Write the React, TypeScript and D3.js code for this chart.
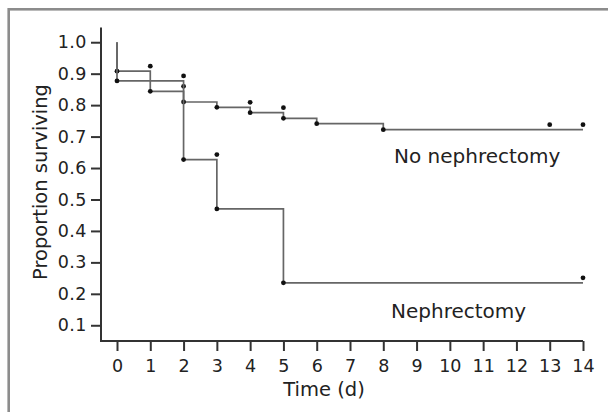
import React, { useEffect, useRef } from 'react';
import * as d3 from 'd3';

// Kaplan-Meier steps (time in days, proportion surviving)
const noNephTimes = [0, 0, 1, 2, 3, 4, 5, 6, 8];
const noNephSurv = [1, 0.908, 0.844, 0.81, 0.793, 0.776, 0.758, 0.741, 0.722];
const noNephCensored = [1, 2, 4, 5, 13, 14];

const nephTimes = [0, 0, 2, 3, 5];
const nephSurv = [1, 0.877, 0.627, 0.47, 0.235];
const nephCensored = [2, 3, 14];

const xTicks = d3.range(0, 15);
const yTicks = [0.1, 0.2, 0.3, 0.4, 0.5, 0.6, 0.7, 0.8, 0.9, 1.0];

const FONT = '"DejaVu Sans", Verdana, sans-serif';

const App = () => {
  const svgRef = useRef<SVGSVGElement | null>(null);

  useEffect(() => {
    if (!svgRef.current) return;
    const svg = d3.select(svgRef.current);
    svg.selectAll('*').remove();

    // frame around the figure (runs off the right and bottom edges)
    svg
      .append('rect')
      .attr('x', 8.7)
      .attr('y', 9.3)
      .attr('width', 640)
      .attr('height', 440)
      .attr('fill', 'white')
      .attr('stroke', '#8c8c8c')
      .attr('stroke-width', 2.6);

    // scales
    const x = d3.scaleLinear().domain([0, 14]).range([117, 583]);
    const y = d3.scaleLinear().domain([0.05, 1.05]).range([341, 26.5]);
    const axisLeftX = 101;
    const axisBottomY = y(0.05);

    const g = svg.append('g');

    // axis lines (L shape)
    g.append('path')
      .attr('d', `M${axisLeftX},${y(1.047)}V${axisBottomY}H${x(14)}`)
      .attr('fill', 'none')
      .attr('stroke', '#333')
      .attr('stroke-width', 2);

    // X axis ticks + labels
    const xAxis = g
      .append('g')
      .attr('transform', `translate(0,${axisBottomY})`)
      .call(
        d3
          .axisBottom(x)
          .tickValues(xTicks)
          .tickSize(10)
          .tickSizeOuter(0)
          .tickPadding(9)
          .tickFormat(d3.format('d'))
      );
    xAxis.select('.domain').remove();
    xAxis.selectAll('line').attr('stroke', '#333').attr('stroke-width', 2);
    xAxis
      .selectAll('text')
      .attr('fill', '#222')
      .style('font-family', FONT)
      .style('font-size', '17.5px');

    // Y axis ticks + labels
    const yAxis = g
      .append('g')
      .attr('transform', `translate(${axisLeftX},0)`)
      .call(
        d3
          .axisLeft(y)
          .tickValues(yTicks)
          .tickSize(10)
          .tickSizeOuter(0)
          .tickPadding(4)
          .tickFormat(d3.format('.1f'))
      );
    yAxis.select('.domain').remove();
    yAxis.selectAll('line').attr('stroke', '#333').attr('stroke-width', 2);
    yAxis
      .selectAll('text')
      .attr('fill', '#222')
      .style('font-family', FONT)
      .style('font-size', '17.5px')
      .style('letter-spacing', '0.5px');

    // axis titles
    g.append('text')
      .attr('transform', `translate(47,182) rotate(-90)`)
      .attr('text-anchor', 'middle')
      .attr('fill', '#222')
      .style('font-family', FONT)
      .style('font-size', '19.5px')
      .text('Proportion surviving');

    g.append('text')
      .attr('x', 324)
      .attr('y', 396)
      .attr('text-anchor', 'middle')
      .attr('fill', '#222')
      .style('font-family', FONT)
      .style('font-size', '19.5px')
      .text('Time (d)');

    // survival curves
    const line = d3
      .line<[number, number]>()
      .x(d => x(d[0]))
      .y(d => y(d[1]))
      .curve(d3.curveStepAfter);

    const curves = [
      { times: noNephTimes, surv: noNephSurv, censored: noNephCensored },
      { times: nephTimes, surv: nephSurv, censored: nephCensored }
    ];

    curves.forEach(c => {
      const pts: [number, number][] = c.times.map((t, i) => [t, c.surv[i]]);
      pts.push([14, c.surv[c.surv.length - 1]]);

      g.append('path')
        .datum(pts)
        .attr('fill', 'none')
        .attr('stroke', '#666')
        .attr('stroke-width', 1.7)
        .attr('d', line);

      // event dots at each new step level
      g.selectAll(null)
        .data(pts.slice(1, pts.length - 1))
        .enter()
        .append('circle')
        .attr('cx', d => x(d[0]))
        .attr('cy', d => y(d[1]))
        .attr('r', 2.4)
        .attr('fill', '#111');

      // censor marks, drawn just above the level before that time
      const levelBefore = (t: number) => {
        let v = c.surv[0];
        c.times.forEach((tt, i) => {
          if (tt < t) v = c.surv[i];
        });
        return v;
      };
      g.selectAll(null)
        .data(c.censored)
        .enter()
        .append('circle')
        .attr('cx', d => x(d))
        .attr('cy', d => y(levelBefore(d)) - 5)
        .attr('r', 2.4)
        .attr('fill', '#111');
    });

    // group labels
    g.append('text')
      .attr('x', 394)
      .attr('y', 162.7)
      .attr('fill', '#222')
      .style('font-family', FONT)
      .style('font-size', '20px')
      .text('No nephrectomy');

    g.append('text')
      .attr('x', 391)
      .attr('y', 317.7)
      .attr('fill', '#222')
      .style('font-family', FONT)
      .style('font-size', '20px')
      .text('Nephrectomy');
  }, []);

  return (
    <svg
      ref={svgRef}
      width={608}
      height={412}
      style={{ position: 'absolute', left: 0, top: 0, background: 'white' }}
    />
  );
};

export default App;
